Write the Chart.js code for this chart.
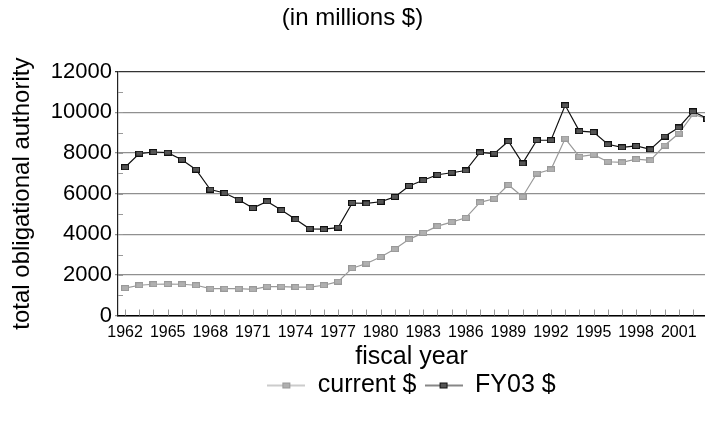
<!DOCTYPE html>
<html>
<head>
<meta charset="utf-8">
<title>total obligational authority</title>
<script src="https://cdn.jsdelivr.net/npm/chart.js@4.4.1/dist/chart.umd.min.js"></script>
<style>
    html, body { margin: 0; padding: 0; background: #fff; overflow: hidden; }
    #wrap { width: 705px; height: 424px; }
</style>
</head>
<body>
<div id="wrap"><canvas id="myChart" width="705" height="424"></canvas></div>
<script>
// Data (millions $)
const years = [1962, 1963, 1964, 1965, 1966, 1967, 1968, 1969, 1970, 1971,
    1972, 1973, 1974, 1975, 1976, 1977, 1978, 1979, 1980, 1981,
    1982, 1983, 1984, 1985, 1986, 1987, 1988, 1989, 1990, 1991,
    1992, 1993, 1994, 1995, 1996, 1997, 1998, 1999, 2000, 2001, 2002, 2003];
const currentDollars = [1350, 1490, 1540, 1550, 1540, 1490, 1320, 1320, 1320, 1290,
    1420, 1420, 1400, 1400, 1490, 1670, 2330, 2560, 2880, 3270,
    3750, 4070, 4400, 4600, 4810, 5570, 5750, 6430, 5850, 6990,
    7190, 8710, 7820, 7920, 7570, 7540, 7700, 7640, 8370, 8960, 9900, 9700];
const fy03Dollars = [7300, 7970, 8050, 8020, 7670, 7180, 6200, 6030, 5700, 5290,
    5620, 5190, 4740, 4270, 4250, 4330, 5540, 5520, 5600, 5840,
    6380, 6660, 6930, 7030, 7140, 8030, 7970, 8580, 7490, 8630,
    8630, 10350, 9080, 9030, 8430, 8280, 8350, 8180, 8810, 9260, 10050, 9700];
const yTicks = [0, 2000, 4000, 6000, 8000, 10000, 12000];
const xTickStep = 3;

// Small rectangle markers
function makeMarker(fill, stroke) {
    const c = document.createElement('canvas');
    c.width = 8; c.height = 6;
    const ctx = c.getContext('2d');
    ctx.fillStyle = stroke;
    ctx.fillRect(0, 0, 8, 6);
    ctx.fillStyle = fill;
    ctx.fillRect(1, 1, 6, 4);
    return c;
}

// Legend sample: line with marker in the middle
function makeLegendIcon(lineColor, fill, stroke) {
    const c = document.createElement('canvas');
    c.width = 38; c.height = 8;
    const ctx = c.getContext('2d');
    ctx.strokeStyle = lineColor;
    ctx.lineWidth = 1.2;
    ctx.beginPath();
    ctx.moveTo(0, 4);
    ctx.lineTo(38, 4);
    ctx.stroke();
    ctx.drawImage(makeMarker(fill, stroke), 15, 1);
    return c;
}

const lightMarker = makeMarker('#b0b0b0', '#999999');
const darkMarker = makeMarker('#555555', '#111111');
const legendIcons = [
    makeLegendIcon('#999999', '#b0b0b0', '#999999'),
    makeLegendIcon('#111111', '#555555', '#111111')
];

// Short inner tick marks (every year, every 1000)
const innerTicks = {
    id: 'innerTicks',
    beforeDatasetsDraw(chart) {
        const {ctx, chartArea, scales} = chart;
        ctx.save();
        ctx.strokeStyle = '#9a9a9a';
        ctx.lineWidth = 1;
        ctx.beginPath();
        years.forEach(yr => {
            const x = Math.round(scales.x.getPixelForValue(yr)) + 0.5;
            if (x > chartArea.left && x < chartArea.right) {
                ctx.moveTo(x, chartArea.bottom);
                ctx.lineTo(x, chartArea.bottom - 6);
            }
        });
        for (let v = 1000; v < yTicks[yTicks.length - 1]; v += 1000) {
            const y = Math.round(scales.y.getPixelForValue(v)) + 0.5;
            ctx.moveTo(chartArea.left, y);
            ctx.lineTo(chartArea.left + 5, y);
        }
        ctx.stroke();
        ctx.restore();
    }
};

document.addEventListener('DOMContentLoaded', () => {
    const ctx = document.getElementById('myChart').getContext('2d');
    new Chart(ctx, {
        type: 'line',
        data: {
            datasets: [
                {
                    label: 'current $',
                    data: years.map((yr, i) => ({x: yr, y: currentDollars[i]})),
                    borderColor: '#999999',
                    borderWidth: 1.2,
                    pointStyle: lightMarker,
                    tension: 0,
                    order: 2
                },
                {
                    label: 'FY03 $',
                    data: years.map((yr, i) => ({x: yr, y: fy03Dollars[i]})),
                    borderColor: '#111111',
                    borderWidth: 1.2,
                    pointStyle: darkMarker,
                    tension: 0,
                    order: 1
                }
            ]
        },
        options: {
            responsive: false,
            animation: false,
            // plot runs to the right edge of the picture
            layout: { autoPadding: false, padding: { left: 0, right: 0, top: 0, bottom: 16 } },
            scales: {
                x: {
                    type: 'linear',
                    min: 1961.5,
                    max: 2002.85,
                    afterFit: scale => { scale.paddingRight = 0; scale.paddingLeft = 0; },
                    grid: { drawOnChartArea: false, drawTicks: false },
                    border: { color: '#000', width: 1.5 },
                    ticks: {
                        stepSize: xTickStep,
                        includeBounds: false,
                        autoSkip: false,
                        maxRotation: 0,
                        padding: 7,
                        color: '#000',
                        font: { family: 'Liberation Sans', size: 16 },
                        callback: v => String(v)
                    },
                    title: {
                        display: true,
                        text: 'fiscal year',
                        color: '#000',
                        padding: { top: 1.3, bottom: 0 },
                        font: { family: 'Liberation Sans', size: 25, lineHeight: 0.6 }
                    }
                },
                y: {
                    min: 0,
                    max: 12000,
                    afterFit: scale => { scale.width = 118; },
                    grid: {
                        color: c => (c.tick && c.tick.value === 12000 ? '#333' : '#909090'),
                        lineWidth: 1.2,
                        tickLength: 3
                    },
                    border: { color: '#222', width: 1.2 },
                    ticks: {
                        stepSize: 2000,
                        padding: 3,
                        color: '#000',
                        font: { family: 'Liberation Sans', size: 22 },
                        callback: v => String(v)
                    },
                    title: {
                        display: true,
                        text: 'total obligational authority',
                        color: '#000',
                        padding: { top: 8, bottom: 0 },
                        font: { family: 'Liberation Sans', size: 24 }
                    }
                }
            },
            elements: {
                point: { radius: 4, hoverRadius: 4 },
                line: { fill: false }
            },
            plugins: {
                title: {
                    display: true,
                    text: '(in millions $)',
                    color: '#000',
                    padding: { top: 4, bottom: 39 },
                    font: { family: 'Liberation Sans', size: 24, weight: 'normal' }
                },
                legend: {
                    position: 'bottom',
                    fullSize: false,
                    labels: {
                        usePointStyle: true,
                        pointStyleWidth: 38,
                        padding: 8,
                        color: '#000',
                        font: { family: 'Liberation Sans', size: 25 },
                        sort: (a, b) => a.datasetIndex - b.datasetIndex,
                        generateLabels: chart => {
                            const items = Chart.defaults.plugins.legend.labels.generateLabels(chart);
                            items.forEach(item => { item.pointStyle = legendIcons[item.datasetIndex]; });
                            return items;
                        }
                    }
                },
                tooltip: { enabled: false }
            }
        },
        plugins: [innerTicks]
    });
});
</script>
</body>
</html>
